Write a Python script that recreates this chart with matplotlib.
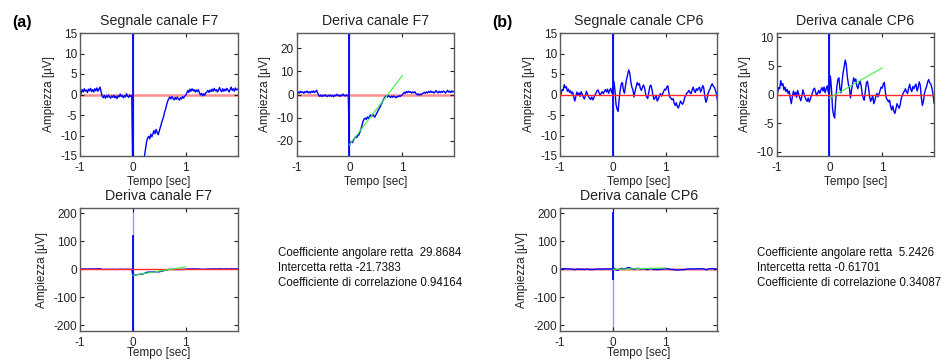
import matplotlib
matplotlib.use('Agg')
import matplotlib.pyplot as plt
import numpy as np

plt.rcParams['font.family'] = ['Liberation Sans', 'DejaVu Sans']
plt.rcParams['font.size'] = 8.5
plt.rcParams['axes.unicode_minus'] = False

# campioni ogni 20 ms a partire da -1 s
t_start = -1.0
t_step = 0.02

# canale F7 (segnale / deriva), valori in uV
f7 = [-0.8, 0.3, 1.2, 0.6, 1.4, 0.8, 1.1, 0.5, 1.3, 0.9,
      1.5, 0.7, 1.2, 0.6, 1.4, 0.9, 1.6, 0.8, 1.3, 1.8,
      0.6,
      -0.4, -0.8, -0.2, -0.9, -0.3, -0.7, -0.1, -0.6, -0.9, -0.3,
      -0.7, -0.2, -0.8, -0.4, -1.0, -0.3, -0.6, 0.1, -0.5, -0.2,
      -0.8, -0.3, -0.6, 0.2, -0.4, -0.7, -0.1, -0.5, -0.3,
      -22.0, -21.0, -20.3, -20.8, -19.6, -19.0, -18.2, -18.6, -17.8, -17.5,
      -16.2, -15.0, -13.2, -11.5, -10.6, -10.2, -10.8, -9.7, -10.3, -9.5,
      -8.8, -9.6, -8.5, -9.2, -9.8, -8.9, -8.0, -7.1, -6.2, -5.5,
      -4.3, -3.6, -2.4, -1.6, -1.0, -0.6, -1.1, -0.5, -0.9, -1.3,
      -0.7, -1.2, -0.6, -1.0, -1.4, -0.8, -1.1, -0.5, -0.9, -0.4,
      -0.2, 0.4, 1.0, 0.5, 1.3, 0.8, 1.4, 0.9, 1.2, 0.6,
      1.1, 0.7, 1.2, 0.4, -0.1, 0.3, -0.3, 0.2, -0.2, 0.4,
      0.6, 1.0, 0.5, 1.1, 0.7, 1.3, 0.8, 1.5, 0.9, 1.2,
      0.6, 1.1, 1.7, 1.0, 0.7, 1.4, 0.8, 1.3, 0.9, 1.5,
      1.1, 0.6, 1.2, 1.8, 1.0, 1.4, 0.8, 1.6, 1.1, 1.3]

# canale CP6
cp6 = [-1.0, 0.2, 1.2, 1.0, 2.4, 1.6, 1.9, 0.8, 1.3, 0.5,
       0.9, 0.2, 0.6, -0.6, -1.6, -0.4, 0.6, -0.2, 0.4, -0.5,
       0.7, 0.1, -0.6, -1.1, -0.3, 0.8, 0.1, -0.5, -0.9, -1.2,
       -0.6, -1.3, -0.8, -0.2, 0.3, 0.9, 1.1, 0.4, -0.2, 0.3,
       0.7, 0.2, 0.8, 1.2, 0.6, 1.3, 0.3, 1.0, 1.5, 0.4,
       0.2, 3.2, 1.0, -2.4, -3.6, -4.1, -1.0, 1.2, 2.6, 2.9,
       1.0, 0.3, 2.2, 3.8, 4.8, 6.0, 5.2, 3.1, 1.8, 1.1,
       -0.6, 0.8, 1.9, 2.9, 2.3, 2.7, 1.5, 1.0, 1.8, 2.3,
       1.6, 0.2, -0.6, -1.0, 0.5, 2.0, 2.3, 1.2, -0.3, -1.2,
       -0.8, -0.2, -1.6, -1.1, -0.3, 0.2, -0.4, 0.1, 0.7, 1.3,
       1.1, 1.8, 2.1, 0.4, -0.7, -0.9, -1.3, -1.0, -2.1, -2.7,
       -2.0, -2.9, -3.3, -2.5, -1.6, -2.0, -2.4, -1.8, -0.7, -0.2,
       0.3, 0.6, 1.0, 0.4, 0.2, 1.1, 1.8, 0.9, 0.5, 1.4,
       1.0, 1.5, 1.8, 0.6, 1.2, 2.2, 1.6, -0.5, -1.9, -1.2,
       0.2, 0.9, 1.4, 2.2, 2.6, 2.0, 1.8, 1.1, 0.2, -1.5]

# artefatto allo stimolo (min, max)
stim_time = 0.0
f7_spike = [-230, 120]
cp6_spike = [-35, 200]

# retta di regressione sulla deriva
fit_window = [0.0, 1.0]
f7_slope, f7_intercept, f7_corr = 29.8684, -21.7383, 0.94164
cp6_slope, cp6_intercept, cp6_corr = 5.2426, -0.61701, 0.34087

zero_level = 0.0
xlim = (-1.0, 1.98)
xticks = [-1, 0, 1]
sig_ylim, sig_yticks = (-15, 15), [-15, -10, -5, 0, 5, 10, 15]
f7_der_ylim, f7_der_yticks = (-26.6, 26.6), [-20, -10, 0, 10, 20]
cp6_der_ylim, cp6_der_yticks = (-10.7, 10.7), [-10, -5, 0, 5, 10]
big_ylim, big_yticks = (-220, 218), [-200, -100, 0, 100, 200]

BLUE = '#0000ff'
MARK = '#9a9aff'
GREEN = '#3cf03c'
TXT = '#222222'


def panel(ax, title, y, spike, ylim, yticks, fit=None,
          red='#ff8f8f', red_lw=1.8, red_top=False, ylab_off=-0.16, xlab_off=-0.165):
    t = t_start + t_step * np.arange(len(y))
    ax.axvline(stim_time, color=MARK, lw=1.0, zorder=1)
    ax.axhline(zero_level, color=red, lw=red_lw, zorder=4 if red_top else 1.5)
    ax.plot(t, y, color=BLUE, lw=1.0, zorder=2)
    ax.plot([stim_time, stim_time], spike, color=BLUE, lw=1.3, zorder=2)
    if fit is not None:
        xf = np.array(fit_window)
        ax.plot(xf, fit[0] * xf + fit[1], color=GREEN, lw=0.8, zorder=5)
    ax.set_xlim(*xlim)
    ax.set_ylim(*ylim)
    ax.set_xticks(xticks)
    ax.set_yticks(yticks)
    ax.set_title(title, pad=6, color=TXT)
    ax.set_xlabel('Tempo [sec]', color=TXT)
    ax.set_ylabel('Ampiezza [µV]', color=TXT)
    ax.xaxis.set_label_coords(0.5, xlab_off)
    ax.yaxis.set_label_coords(ylab_off, 0.5)
    ax.tick_params(direction='in', length=3, width=0.8, top=True, right=True,
                   colors=TXT, labelsize=8.5)
    ax.tick_params(axis='y', pad=2)
    ax.tick_params(axis='x', pad=4)
    for s in ax.spines.values():
        s.set_color('#5a5a5a')
        s.set_linewidth(1.0)


def main():
    fig = plt.figure(figsize=(9.5, 3.61), dpi=100)
    W, H = 950.0, 361.0

    def add(left, top, width=157.5, height=123.0):
        return fig.add_axes([left / W, 1 - (top + height) / H, width / W, height / H])

    # (a) F7
    panel(add(80, 33), 'Segnale canale F7', f7, f7_spike, sig_ylim, sig_yticks)
    panel(add(296.5, 33), 'Deriva canale F7', f7, f7_spike, f7_der_ylim, f7_der_yticks,
          fit=(f7_slope, f7_intercept))
    panel(add(80, 208), 'Deriva canale F7', f7, f7_spike, big_ylim, big_yticks,
          fit=(f7_slope, f7_intercept), red='#ff2a2a', red_lw=1.0, red_top=True,
          ylab_off=-0.205, xlab_off=-0.13)

    # (b) CP6
    panel(add(560, 33), 'Segnale canale CP6', cp6, cp6_spike, sig_ylim, sig_yticks,
          red='#ff2a2a', red_lw=1.0, red_top=True)
    panel(add(776.5, 33), 'Deriva canale CP6', cp6, cp6_spike, cp6_der_ylim, cp6_der_yticks,
          fit=(cp6_slope, cp6_intercept), red='#ff2a2a', red_lw=1.0, red_top=True)
    panel(add(560, 208), 'Deriva canale CP6', cp6, cp6_spike, big_ylim, big_yticks,
          fit=(cp6_slope, cp6_intercept), ylab_off=-0.205, xlab_off=-0.13)

    fig.text(12 / W, 1 - 23 / H, '(a)', fontsize=11.5, fontweight='bold', va='center')
    fig.text(492 / W, 1 - 23 / H, '(b)', fontsize=11.5, fontweight='bold', va='center')

    for x0, (sl, ic, r) in [(278, (f7_slope, f7_intercept, f7_corr)),
                            (757, (cp6_slope, cp6_intercept, cp6_corr))]:
        lines = ['Coefficiente angolare retta  %g' % sl,
                 'Intercetta retta %g' % ic,
                 'Coefficiente di correlazione %g' % r]
        for k, s in enumerate(lines):
            fig.text(x0 / W, 1 - (253 + 15 * k) / H, s, va='center', color='#111111',
                     fontsize=8.3)

    fig.savefig('out.png', dpi=100)


if __name__ == '__main__':
    main()
